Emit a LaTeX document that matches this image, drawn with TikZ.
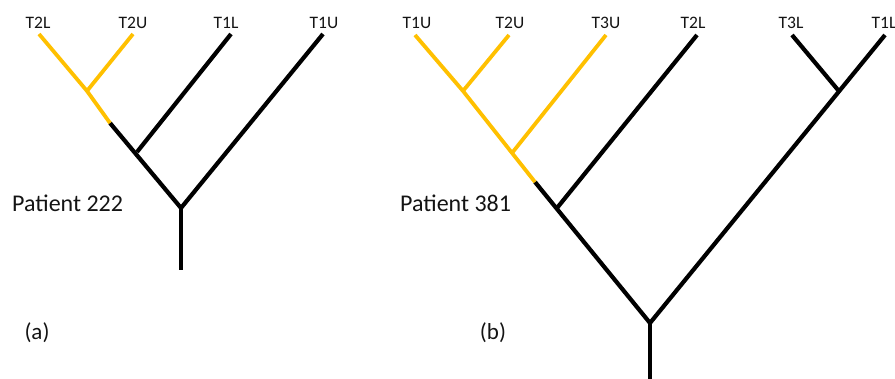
\documentclass[tikz,border=0pt]{standalone}
\usepackage{fontspec}
\setmainfont{Carlito}
\definecolor{branchgold}{HTML}{FFC000}
\definecolor{inkgray}{HTML}{141414}
\tikzset{
  blackbranch/.style={draw=black, line width=4.2pt, line cap=butt, line join=miter},
  goldbranch/.style={draw=branchgold, line width=3.8pt, line cap=butt, line join=miter},
  leaflabel/.style={font=\fontsize{17.5}{19}\selectfont, text=inkgray, inner sep=0pt},
  patientlabel/.style={font=\fontsize{24}{27}\selectfont, text=inkgray, inner sep=0pt, anchor=base west},
  panellabel/.style={font=\fontsize{23}{26}\selectfont, text=inkgray, inner sep=0pt}
}
\begin{document}
\begin{tikzpicture}[x=1pt, y=-1pt]
\useasboundingbox (0,0) rectangle (895,378);

% ---------------- tree (a): patient 222 ----------------
\coordinate (a-T2L) at (39,34);
\coordinate (a-T2U) at (133,34);
\coordinate (a-T1L) at (231,34);
\coordinate (a-T1U) at (323,34);
\coordinate (a-j2) at (87,91);
\coordinate (a-mix) at (110,123);
\coordinate (a-j1) at (137,152);
\coordinate (a-root) at (181,208);
\coordinate (a-base) at (181,270);

\draw[blackbranch] (a-mix) -- (a-root) -- (a-T1U);
\draw[blackbranch] (a-j1) -- (a-T1L);
\draw[blackbranch] (a-root) -- (a-base);
\draw[goldbranch] (a-T2L) -- (a-j2) -- (a-mix);
\draw[goldbranch] (a-j2) -- (a-T2U);

\node[leaflabel] (a-lab1) at (38,23) {T2L};
\node[leaflabel] (a-lab2) at (133,23) {T2U};
\node[leaflabel] (a-lab3) at (226,23) {T1L};
\node[leaflabel] (a-lab4) at (324,23) {T1U};
\node[patientlabel] (a-patient) at (12,211) {Patient 222};
\node[panellabel] (a-panel) at (37,333) {(a)};

% ---------------- tree (b): patient 381 ----------------
\coordinate (b-T1U) at (415,35);
\coordinate (b-T2U) at (509,35);
\coordinate (b-T3U) at (606,35);
\coordinate (b-T2L) at (697,35);
\coordinate (b-T3L) at (792,35);
\coordinate (b-T1L) at (885,35);
\coordinate (b-j3) at (463,91);
\coordinate (b-j2) at (512,153);
\coordinate (b-mix) at (535,182);
\coordinate (b-j1) at (557,208);
\coordinate (b-jr) at (838,90);
\coordinate (b-root) at (650,323);
\coordinate (b-base) at (650,380);

\draw[blackbranch] (b-mix) -- (b-root) -- (b-T1L);
\draw[blackbranch] (b-j1) -- (b-T2L);
\draw[blackbranch] (b-jr) -- (b-T3L);
\draw[blackbranch] (b-root) -- (b-base);
\draw[goldbranch] (b-T1U) -- (b-j3) -- (b-mix);
\draw[goldbranch] (b-j3) -- (b-T2U);
\draw[goldbranch] (b-j2) -- (b-T3U);

\node[leaflabel] (b-lab1) at (417,23) {T1U};
\node[leaflabel] (b-lab2) at (510,23) {T2U};
\node[leaflabel] (b-lab3) at (606,23) {T3U};
\node[leaflabel] (b-lab4) at (693,23) {T2L};
\node[leaflabel] (b-lab5) at (791,23) {T3L};
\node[leaflabel] (b-lab6) at (884,23) {T1L};
\node[patientlabel] (b-patient) at (400,211) {Patient 381};
\node[panellabel] (b-panel) at (493,333) {(b)};
\end{tikzpicture}
\end{document}
